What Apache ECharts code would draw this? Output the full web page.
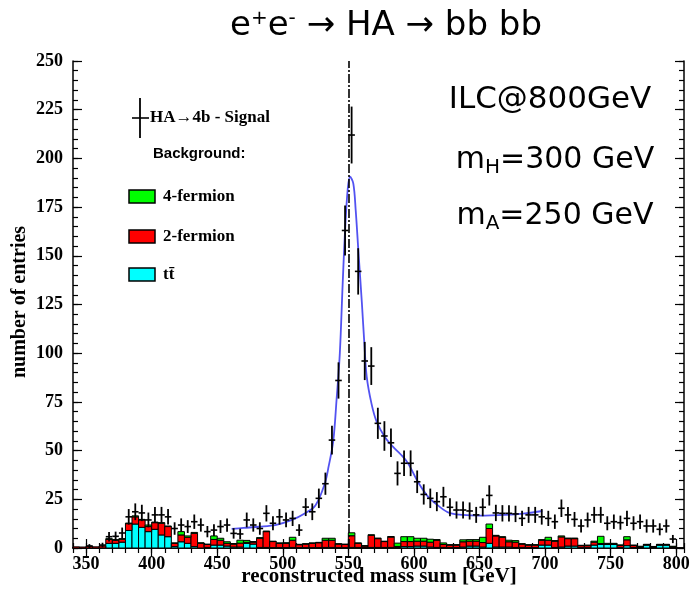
<!DOCTYPE html>
<html><head><meta charset="utf-8">
<script src="https://cdn.jsdelivr.net/npm/echarts@6/dist/echarts.min.js"></script>
<style>html,body{margin:0;padding:0;background:#fff}#c{width:694px;height:598px}</style>
</head><body><div id="c"></div>
<script>
// ---- data ----
const binStarts = [340,345,350,355,360,365,370,375,380,385,
  390,395,400,405,410,415,420,425,430,435,
  440,445,450,455,460,465,470,475,480,485,
  490,495,500,505,510,515,520,525,530,535,
  540,545,550,555,560,565,570,575,580,585,
  590,595,600,605,610,615,620,625,630,635,
  640,645,650,655,660,665,670,675,680,685,
  690,695,700,705,710,715,720,725,730,735,
  740,745,750,755,760,765,770,775,780,785,
  790,795];
const ttbar = [0,0,0,0,0,2.4,2.4,3.0,9.0,12.3,
  10.6,8.4,9.6,6.7,5.8,0.7,3.2,2.4,0.7,0,
  0.3,1.5,1.5,1.0,0.5,0.5,2.4,2.0,0.3,0.3,
  0.2,0.2,0.2,0.3,0.2,0.2,0.2,0.2,0.3,0.3,
  0.2,0.2,0.3,0.3,0.2,0.3,0.3,0.3,0.3,0.3,
  0.7,0.7,1.0,1.0,0.5,0.3,0.3,0.2,0.2,0.5,
  1.0,1.0,0.5,2.4,0.5,0.5,0.5,0.3,0.3,0.2,
  0.2,1.5,1.5,0.3,0.5,1.0,1.0,0.2,0.2,1.5,
  1.8,1.8,1.8,0.3,1.2,0.3,0.3,1.5,0.3,1.5,
  1.5,0.3];
const twoFermion = [0.6,0.5,1.0,0.6,1.0,2.0,1.6,1.5,3.5,3.7,
  3.8,2.6,3.4,6.0,5.2,1.7,3.5,3.1,6.8,2.4,
  1.5,2.9,2.5,1.4,1.5,2.0,0.5,1.0,4.7,8.1,
  3.1,2.2,2.2,3.7,1.5,1.8,2.2,2.5,3.7,3.7,
  1.8,1.6,6.0,2.1,0.8,6.2,4.5,3.0,5.3,0.5,
  2.6,2.6,2.5,2.5,2.5,3.7,1.5,1.3,1.3,2.7,
  2.5,2.5,2.3,7.6,5.7,5.0,2.7,2.7,1.7,1.3,
  1.3,2.5,2.5,3.2,5.2,3.8,3.8,1.0,1.0,1.5,
  0.5,0.3,0.3,1.0,3.0,1.0,0.3,0.2,0.3,0.2,
  0.2,0.3];
const fourFermion = [0,0,0,0,0,0.4,0.3,0.3,0.3,0.5,
  0.3,0.8,0.3,0.3,0.3,0.2,1.7,0.7,0.5,0.3,
  0.2,1.8,1.0,0.8,0.3,1.5,1.0,0.3,0.3,0.3,
  0.2,0.2,0.3,1.5,0.2,0.2,0.2,0.2,1.0,1.0,
  0.2,0.2,1.5,0.2,0.2,0.3,0.3,0.2,0.3,1.7,
  2.5,2.5,1.5,1.5,1.5,0.3,0.8,0.2,0.2,1.0,
  0.8,0.8,2.7,2.3,0.3,0.3,0.8,0.8,0.2,0.2,
  0.2,0.3,1.5,0.3,0.5,0.3,0.3,0.2,0.3,0.5,
  3.7,0.3,0.3,0.3,1.6,0.2,0.3,0.2,0.2,0.2,
  0.2,0.3];

const sigX = [352.5,362.5,367.5,372.5,377.5,382.5,387.5,392.5,397.5,402.5,
  407.5,412.5,417.5,422.5,427.5,432.5,437.5,442.5,447.5,452.5,
  457.5,462.5,467.5,472.5,477.5,482.5,487.5,492.5,497.5,502.5,
  507.5,512.5,517.5,522.5,527.5,532.5,537.5,542.5,547.5,552.5,
  557.5,562.5,567.5,572.5,577.5,582.5,587.5,592.5,597.5,602.5,
  607.5,612.5,617.5,622.5,627.5,632.5,637.5,642.5,647.5,652.5,
  657.5,662.5,667.5,672.5,677.5,682.5,687.5,692.5,697.5,702.5,
  707.5,712.5,717.5,722.5,727.5,732.5,737.5,742.5,747.5,752.5,
  757.5,762.5,767.5,772.5,777.5,782.5,787.5,792.5,797.5];
const sigY = [1,1.5,5.8,6,7.7,16,18.6,18,14.4,17,
  17,16,10,11.8,11,13.5,11.8,8.4,9.2,11,
  11.8,7.5,7.2,14.4,11.8,10,17.8,12.7,16,14.4,
  15.2,9.2,21,18.6,25.5,33,55.4,86,163,212,
  142,96,93.4,64,57.5,54,38.3,43.5,43.5,34,
  27.5,25.5,23.8,26.3,20.9,19.5,19.5,19,17,20.9,
  27,18,17.8,17.8,17.5,15.2,17,17,16,15.2,
  13.5,20.4,17,14.7,11.3,14.4,17,17,12.7,13.5,
  13,15.2,12.7,13.5,11.3,11.3,9.6,11.3,4.6];
const sigErr = [1,1.2,2.4,2.4,2.8,4,4.3,4.2,3.8,4.1,
  4.1,4,3.2,3.4,3.3,3.7,3.4,2.9,3,3.3,
  3.4,2.7,2.7,3.8,3.4,3.2,4.2,3.6,4,3.8,
  3.9,3,4.6,4.3,5,5.7,7.4,9.3,12.8,14.6,
  11.9,9.8,9.7,8,7.6,7.3,6.2,6.6,6.6,5.8,
  5.2,5,4.9,5.1,4.6,4.4,4.4,4.4,4.1,4.6,
  5.2,4.2,4.2,4.2,4.2,3.9,4.1,4.1,4,3.9,
  3.7,4.5,4.1,3.8,3.4,3.8,4.1,4.1,3.6,3.7,
  3.6,3.9,3.6,3.7,3.4,3.4,3.1,3.4,2.1];

const fitX = [461,470,482,495,507,517,525,532,535,538.5,541,543.5,545.7,547.5,549.5,551.3,553.8,555.6,557.6,560.3,562.3,564,567.7,571.5,577.8,584,590,595.5,603,610.6,618,627,637,650,670,685,698];
const fitY = [9.8,10.3,10.9,11.9,14.4,17.8,22,33,42,55,76,100,136,163,184,190.6,187,173.5,153,126,104,88,74,65,57,52,48,43.5,34,26.5,22,18,17,16.6,17,17.8,19];

const xTickLabels = [350,400,450,500,550,600,650,700,750,800];
const yTickLabels = [0,25,50,75,100,125,150,175,200,225,250];
const markerMass = 550;

// ---- chart ----
const XMIN = 340, XMAX = 806, YMIN = 0, YMAX = 250, BIN = 5;
const G = {left: 73, right: 10, top: 61, bottom: 50};
const serif = 'Liberation Serif';
const comic = 'DejaVu Sans';

const chart = echarts.init(document.getElementById('c'), null, {renderer: 'canvas'});

// stacked histogram layers: [binStart, lower, upper]
function layer(vals, below) {
  return vals.map((v, i) => {
    let lo = 0;
    below.forEach(b => { lo += b[i]; });
    return [binStarts[i], lo, lo + v];
  });
}
function histSeries(name, data, color) {
  return {
    name, type: 'custom', xAxisIndex: 0, yAxisIndex: 0, z: 2,
    data,
    renderItem: function (params, api) {
      const x0 = api.value(0), lo = api.value(1), hi = api.value(2);
      if (hi <= lo) return null;
      const a = api.coord([x0, hi]);
      const b = api.coord([x0 + BIN, lo]);
      return {type: 'rect', shape: {x: a[0], y: a[1], width: b[0] - a[0], height: b[1] - a[1]},
        style: {fill: color, stroke: '#000', lineWidth: 1}};
    }
  };
}

const ax = (pos, interval, len, showLabel, extra) => Object.assign({
  type: 'value', position: pos, gridIndex: 0,
  axisLine: {show: true, lineStyle: {color: '#000', width: 1.5}},
  axisTick: {show: true, inside: true, length: len, lineStyle: {color: '#000', width: 1.2}},
  axisLabel: {show: showLabel},
  splitLine: {show: false}
}, interval ? {interval} : {}, extra || {});

const xBase = {min: XMIN, max: XMAX};
const yBase = {min: YMIN, max: YMAX};
const majorTick = vals => ({show: true, inside: true, length: 9, customValues: vals, lineStyle: {color: '#000', width: 1.2}});
const xAxes = [
  ax('bottom', 10, 5, true, Object.assign({}, xBase, {axisLabel: {show: true, color: '#000', fontFamily: serif, fontWeight: 'bold', fontSize: 18, margin: 7,
      formatter: v => (xTickLabels.indexOf(v) >= 0 ? String(v) : '')}})),
  ax('bottom', null, 9, false, Object.assign({}, xBase, {axisLine: {show: false}, axisTick: majorTick(xTickLabels), axisLabel: {show: false}})),
  ax('top', 10, 5, false, Object.assign({}, xBase)),
  ax('top', null, 9, false, Object.assign({}, xBase, {axisLine: {show: false}, axisTick: majorTick(xTickLabels), axisLabel: {show: false}}))
];
const yAxes = [
  ax('left', 5, 5, true, Object.assign({}, yBase, {axisLabel: {show: true, color: '#000', fontFamily: serif, fontWeight: 'bold', fontSize: 18, margin: 10,
      formatter: v => (yTickLabels.indexOf(v) >= 0 ? String(v) : '')}})),
  ax('left', null, 9, false, Object.assign({}, yBase, {axisLine: {show: false}, axisTick: majorTick(yTickLabels), axisLabel: {show: false}})),
  ax('right', 5, 5, false, Object.assign({}, yBase)),
  ax('right', null, 9, false, Object.assign({}, yBase, {axisLine: {show: false}, axisTick: majorTick(yTickLabels), axisLabel: {show: false}}))
];

const option = {
  backgroundColor: '#fff',
  animation: false,
  grid: {left: G.left, right: G.right, top: G.top, bottom: G.bottom, containLabel: false},
  xAxis: xAxes,
  yAxis: yAxes,
  series: [
    histSeries('tt', layer(ttbar, []), '#00ffff'),
    histSeries('2-fermion', layer(twoFermion, [ttbar]), '#ff0000'),
    histSeries('4-fermion', layer(fourFermion, [ttbar, twoFermion]), '#00ff00'),
    {
      name: 'fit', type: 'line', xAxisIndex: 0, yAxisIndex: 0, z: 3,
      smooth: 0.35, showSymbol: false, symbol: 'none',
      lineStyle: {color: '#3434ee', width: 1.8, opacity: 0.85},
      data: fitX.map((x, i) => [x, fitY[i]]),
      markLine: {
        silent: true, symbol: 'none', animation: false,
        label: {show: false},
        lineStyle: {color: '#000', width: 1.6, type: [9, 2, 2, 2], opacity: 1},
        data: [{xAxis: markerMass}]
      }
    },
    {
      name: 'signal', type: 'custom', xAxisIndex: 0, yAxisIndex: 0, z: 5,
      data: sigX.map((x, i) => [x, sigY[i], sigErr[i]]),
      renderItem: function (params, api) {
        const x = api.value(0), y = api.value(1), e = api.value(2);
        const c = api.coord([x, y]);
        const l = api.coord([x - BIN / 2, y]);
        const r = api.coord([x + BIN / 2, y]);
        const t = api.coord([x, y + e]);
        const b = api.coord([x, Math.max(0, y - e)]);
        return {
          type: 'group', children: [
            {type: 'line', shape: {x1: l[0], y1: c[1], x2: r[0], y2: c[1]}, style: {stroke: '#000', lineWidth: 1.6}},
            {type: 'line', shape: {x1: c[0], y1: t[1], x2: c[0], y2: b[1]}, style: {stroke: '#000', lineWidth: 1.8}}
          ]
        };
      }
    }
  ],
  graphic: [
    {type: 'text', x: 386, y: 26, style: {
      text: 'e{sup|+}e{sup|-} → HA → bb bb', align: 'center', verticalAlign: 'middle',
      font: '34px "' + comic + '"', fill: '#000',
      rich: {sup: {fontSize: 20, lineHeight: 18, verticalAlign: 'top', fontFamily: comic}}
    }},
    {type: 'text', x: 550, y: 100, style: {text: 'ILC@800GeV', align: 'center', verticalAlign: 'middle', font: '31px "' + comic + '"', fill: '#000'}},
    {type: 'text', x: 555, y: 160, style: {
      text: '{m|m}{s|H}{m|=300 GeV}', align: 'center', verticalAlign: 'middle', fill: '#000',
      rich: {m: {fontSize: 30, lineHeight: 36, fontFamily: comic}, s: {fontSize: 20, lineHeight: 14, verticalAlign: 'bottom', fontFamily: comic}}
    }},
    {type: 'text', x: 555, y: 216, style: {
      text: '{m|m}{s|A}{m|=250 GeV}', align: 'center', verticalAlign: 'middle', fill: '#000',
      rich: {m: {fontSize: 30, lineHeight: 36, fontFamily: comic}, s: {fontSize: 20, lineHeight: 14, verticalAlign: 'bottom', fontFamily: comic}}
    }},
    // axis names
    {type: 'text', x: 379, y: 577, style: {text: 'reconstructed mass sum [GeV]', align: 'center', verticalAlign: 'middle', font: 'bold 21px "' + serif + '"', fill: '#000'}},
    {type: 'text', x: 20, y: 302, rotation: Math.PI / 2, style: {text: 'number of entries', align: 'center', verticalAlign: 'middle', font: 'bold 20px "' + serif + '"', fill: '#000'}},
    // legend
    {type: 'line', shape: {x1: 140, y1: 98, x2: 140, y2: 138}, style: {stroke: '#000', lineWidth: 1.8}},
    {type: 'line', shape: {x1: 132, y1: 118, x2: 149, y2: 118}, style: {stroke: '#000', lineWidth: 1.6}},
    {type: 'text', x: 150, y: 118, style: {text: 'HA→4b - Signal', align: 'left', verticalAlign: 'middle', font: 'bold 17px "' + serif + '"', fill: '#000'}},
    {type: 'text', x: 153, y: 154, style: {text: 'Background:', align: 'left', verticalAlign: 'middle', font: 'bold 15px "Liberation Sans"', fill: '#000'}},
    {type: 'rect', shape: {x: 129, y: 190, width: 26, height: 13}, style: {fill: '#00ff00', stroke: '#000', lineWidth: 1.5}},
    {type: 'text', x: 163, y: 197, style: {text: '4-fermion', align: 'left', verticalAlign: 'middle', font: 'bold 17px "' + serif + '"', fill: '#000'}},
    {type: 'rect', shape: {x: 129, y: 230, width: 26, height: 13}, style: {fill: '#ff0000', stroke: '#000', lineWidth: 1.5}},
    {type: 'text', x: 163, y: 237, style: {text: '2-fermion', align: 'left', verticalAlign: 'middle', font: 'bold 17px "' + serif + '"', fill: '#000'}},
    {type: 'rect', shape: {x: 129, y: 268, width: 26, height: 13}, style: {fill: '#00ffff', stroke: '#000', lineWidth: 1.5}},
    {type: 'text', x: 163, y: 275, style: {text: 'tt\u0304', align: 'left', verticalAlign: 'middle', font: 'bold 17px "' + serif + '"', fill: '#000'}}
  ]
};
chart.setOption(option);
</script>
</body></html>
